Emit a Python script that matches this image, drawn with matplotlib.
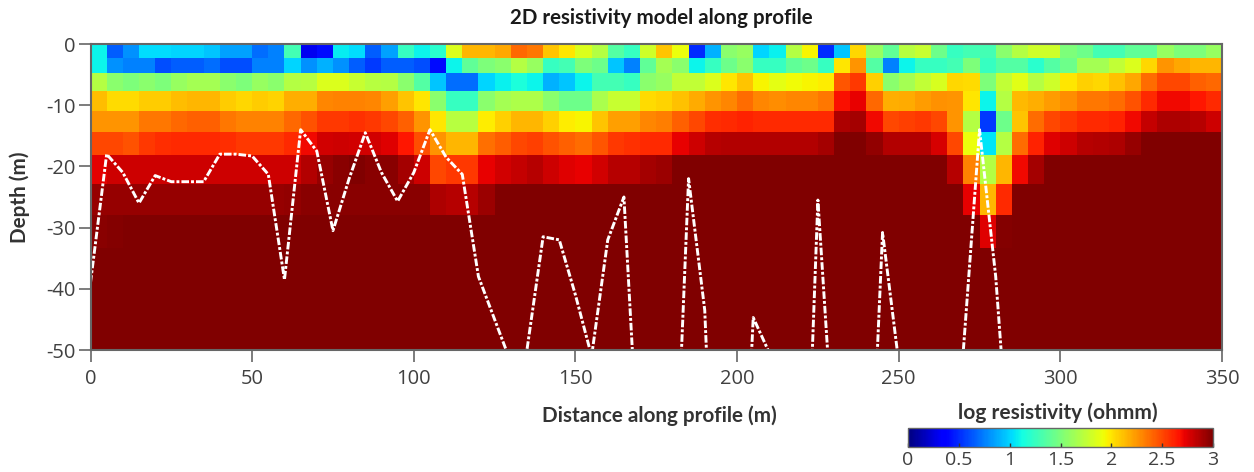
import numpy as np
import matplotlib
matplotlib.use("Agg")
import matplotlib.pyplot as plt

# Model grid
x_edges = np.arange(0, 355, 5)
depth_edges = [0, -2.3, -4.8, -7.6, -10.9, -14.3, -18.2, -22.8, -28, -33.4, -50]

row1 = [1.1, .65, .8, 1.03, 1.03, 1.0, 1.0, .95, .85, .85,
        .7, .75, 1.3, .3, .4, 1.07, 1.02, .65, .85, 1.25,
        1.1, 1.2, 1.85, 2.15, 2.15, 2.2, 2.4, 2.35, 2.1, 2.0,
        1.85, 1.7, 1.35, 1.25, 1.8, 2.1, 1.9, .5, .9, 1.55,
        1.6, 1.0, 1.08, 1.7, 1.95, .5, .95, 2.05, 1.6, 1.4,
        1.72, 1.78, 1.45, 1.25, 1.3, 1.3, 1.55, 1.7, 1.8, 1.8,
        1.5, 1.45, 1.3, 1.3, 1.4, 1.4, 1.6, 1.5, 1.5, 1.6]
row2 = [1.1, .8, .75, .75, .6, .65, .65, .7, .6, .6,
        .75, .75, 1.0, .8, .9, .8, .65, .55, .65, .65,
        .6, .4, 1.1, 1.4, 1.5, 1.55, 1.7, 1.6, 1.25, 1.3,
        1.5, 1.45, .95, .75, 1.4, 1.65, 1.55, 1.1, 1.25, 1.45,
        1.55, 1.25, 1.25, 1.4, 1.45, 1.25, 2.0, 2.25, 1.35, .75,
        1.1, 1.25, 1.25, 1.3, 1.5, 1.25, 1.35, 1.35, 1.2, 1.35,
        1.45, 1.65, 1.65, 1.75, 1.85, 2.05, 2.25, 2.2, 2.15, 2.15]
row3 = [1.7, 1.55, 1.5, 1.55, 1.5, 1.6, 1.65, 1.65, 1.55, 1.5,
        1.6, 1.55, 1.7, 1.72, 1.85, 1.85, 1.78, 1.72, 1.7, 1.55,
        1.35, .95, .7, .7, 1.0, 1.08, 1.15, 1.1, .9, .95,
        1.1, 1.3, 1.3, 1.25, 1.55, 1.6, 1.75, 1.75, 1.85, 2.0,
        2.1, 1.95, 1.88, 1.93, 1.95, 1.97, 2.45, 2.55, 2.07, 1.55,
        1.65, 1.75, 1.83, 2.05, 2.03, 1.5, 1.75, 1.87, 1.7, 1.8,
        2.0, 2.07, 2.05, 2.12, 2.2, 2.38, 2.5, 2.5, 2.42, 2.4]
row4 = [2.13, 2.03, 2.03, 2.08, 2.08, 2.13, 2.15, 2.15, 2.08, 2.05,
        2.08, 2.06, 2.17, 2.17, 2.3, 2.32, 2.32, 2.3, 2.22, 2.1,
        2.0, 1.55, 1.25, 1.25, 1.55, 1.65, 1.68, 1.68, 1.55, 1.45,
        1.45, 1.67, 1.78, 1.78, 2.03, 2.06, 2.12, 2.18, 2.25, 2.3,
        2.38, 2.3, 2.28, 2.3, 2.3, 2.35, 2.68, 2.72, 2.4, 2.17,
        2.18, 2.23, 2.27, 2.25, 2.0, 1.1, 1.7, 2.14, 2.17, 2.23,
        2.28, 2.35, 2.35, 2.38, 2.47, 2.6, 2.7, 2.7, 2.65, 2.6]
row5 = [2.25, 2.25, 2.25, 2.35, 2.35, 2.4, 2.42, 2.42, 2.35, 2.32,
        2.32, 2.32, 2.4, 2.47, 2.55, 2.55, 2.57, 2.55, 2.5, 2.42,
        2.25, 2.0, 1.72, 1.72, 1.97, 2.07, 2.15, 2.15, 2.07, 1.98,
        1.95, 2.1, 2.22, 2.22, 2.3, 2.33, 2.42, 2.5, 2.58, 2.6,
        2.62, 2.6, 2.6, 2.6, 2.6, 2.6, 2.88, 2.9, 2.7, 2.5,
        2.52, 2.55, 2.5, 2.25, 1.7, .55, 1.45, 2.1, 2.38, 2.5,
        2.55, 2.6, 2.6, 2.62, 2.7, 2.82, 2.88, 2.88, 2.85, 2.8]
row6 = [2.5, 2.5, 2.47, 2.55, 2.58, 2.6, 2.6, 2.6, 2.58, 2.55,
        2.55, 2.55, 2.6, 2.7, 2.78, 2.8, 2.78, 2.78, 2.75, 2.65,
        2.48, 2.25, 2.15, 2.15, 2.37, 2.43, 2.5, 2.52, 2.47, 2.42,
        2.38, 2.45, 2.55, 2.57, 2.6, 2.6, 2.72, 2.8, 2.85, 2.87,
        2.87, 2.87, 2.87, 2.87, 2.87, 2.9, 3.0, 3.0, 2.95, 2.87,
        2.87, 2.87, 2.77, 2.5, 1.9, 1.05, 1.7, 2.38, 2.62, 2.75,
        2.8, 2.85, 2.87, 2.88, 2.93, 3.0, 3.0, 3.0, 3.0, 3.0]
row7 = [2.74, 2.8, 2.8, 2.8, 2.8, 2.8, 2.8, 2.8, 2.8, 2.8,
        2.8, 2.8, 2.8, 2.87, 2.93, 2.97, 3.0, 2.97, 2.97, 2.9,
        2.8, 2.5, 2.55, 2.55, 2.72, 2.78, 2.82, 2.85, 2.8, 2.75,
        2.73, 2.78, 2.85, 2.85, 2.9, 2.92, 3.0, 3.0, 3.0, 3.0,
        3.0, 3.0, 3.0, 3.0, 3.0, 3.0, 3.0, 3.0, 3.0, 3.0,
        3.0, 3.0, 3.0, 2.85, 2.32, 1.7, 2.15, 2.7, 2.9, 3.0,
        3.0, 3.0, 3.0, 3.0, 3.0, 3.0, 3.0, 3.0, 3.0, 3.0]
row8 = [2.93, 2.93, 2.93, 2.93, 2.93, 2.93, 2.93, 2.93, 2.93, 2.93,
        2.93, 2.93, 2.95, 2.97, 2.97, 2.97, 2.97, 2.97, 2.97, 2.97,
        2.97, 2.88, 2.85, 2.85, 2.92, 3.0, 3.0, 3.0, 3.0, 3.0,
        3.0, 3.0, 3.0, 3.0, 3.0, 3.0, 3.0, 3.0, 3.0, 3.0,
        3.0, 3.0, 3.0, 3.0, 3.0, 3.0, 3.0, 3.0, 3.0, 3.0,
        3.0, 3.0, 3.0, 3.0, 2.72, 2.15, 2.6, 3.0, 3.0, 3.0,
        3.0, 3.0, 3.0, 3.0, 3.0, 3.0, 3.0, 3.0, 3.0, 3.0]
row9 = [2.97, 2.98, 3.0, 3.0, 3.0, 3.0, 3.0, 3.0, 3.0, 3.0,
        3.0, 3.0, 3.0, 3.0, 3.0, 3.0, 3.0, 3.0, 3.0, 3.0,
        3.0, 3.0, 3.0, 3.0, 3.0, 3.0, 3.0, 3.0, 3.0, 3.0,
        3.0, 3.0, 3.0, 3.0, 3.0, 3.0, 3.0, 3.0, 3.0, 3.0,
        3.0, 3.0, 3.0, 3.0, 3.0, 3.0, 3.0, 3.0, 3.0, 3.0,
        3.0, 3.0, 3.0, 3.0, 3.0, 2.75, 2.98, 3.0, 3.0, 3.0,
        3.0, 3.0, 3.0, 3.0, 3.0, 3.0, 3.0, 3.0, 3.0, 3.0]
row10 = [3.0] * 70

# Interface picked along the profile (goes off the plot below -50 m)
line_x = [0, 5, 10, 15, 20, 25, 30, 35, 40, 45, 50, 55, 60, 65, 70, 75, 80, 85,
          90, 95, 100, 105, 110, 115, 120, 125, 130, 135, 140, 145, 150, 155,
          160, 165, 170, 175, 180, 185, 190, 195, 200, 205, 210, 215, 220, 225,
          230, 235, 240, 245, 250, 255, 260, 265, 270, 275, 280, 285]
line_z = [-39, -18, -21, -26, -21.5, -22.5, -22.5, -22.5, -18, -18, -18.3, -21.3,
          -38.5, -14, -17.5, -30.5, -22, -14.5, -21, -25.7, -21, -14, -18.5, -21.3,
          -38, -45, -52, -50, -31.5, -32, -41, -51, -32, -25, -73, -80, -86, -22,
          -43.5, -107, -100, -44.7, -50.5, -90, -97, -25.5, -66.5, -80, -91, -30.8,
          -52, -65, -70, -70, -50, -14, -38, -74]

res = np.array([row1, row2, row3, row4, row5, row6, row7, row8, row9, row10])

W, H = 1254, 472
plt.rcParams['font.family'] = ['Open Sans', 'DejaVu Sans']
plt.rcParams['axes.unicode_minus'] = False
text_col = '#404040'
frame_col = '#666666'

fig = plt.figure(figsize=(W / 100, H / 100), dpi=100)
ax = fig.add_axes([90.5 / W, 1 - 350 / H, (1222 - 90.5) / W, (350 - 44) / H])

mesh = ax.pcolormesh(x_edges, depth_edges, res, cmap='jet', vmin=0, vmax=3,
                     shading='flat', linewidth=0, rasterized=True)
ax.plot(line_x, line_z, color='white', lw=2.1, ls=(0, (2.6, 0.7, 1.0, 0.7)))

ax.set_xlim(0, 350)
ax.set_ylim(-50, 0)
ax.set_xticks(np.arange(0, 351, 50))
ax.set_yticks(np.arange(-50, 1, 10))
ax.tick_params(direction='out', length=8.5, width=1.2, color=frame_col,
               labelsize=14.5, labelcolor=text_col)
ax.tick_params(axis='x', pad=5)
ax.tick_params(axis='y', pad=2)
for s in ax.spines.values():
    s.set_color(frame_col)
    s.set_linewidth(1.5)

fig.text(661 / W, 1 - 18 / H, '2D resistivity model along profile', family='Lato',
         fontweight='bold', fontsize=14.8, color='#1a1a1a', ha='center', va='center')
fig.text(659.5 / W, 1 - 416 / H, 'Distance along profile (m)', family='Lato',
         fontweight='bold', fontsize=14.9, color='#333333', ha='center', va='center')
fig.text(20 / W, 1 - 197.5 / H, 'Depth (m)', family='Lato', fontweight='bold',
         fontsize=14.9, color='#333333', ha='center', va='center', rotation=90)
fig.text(1057.5 / W, 1 - 413 / H, 'log resistivity (ohmm)', family='Lato',
         fontweight='bold', fontsize=15, color='#333333', ha='center', va='center')

cax = fig.add_axes([908 / W, 1 - 447 / H, (1213 - 908) / W, 19 / H])
cb = fig.colorbar(mesh, cax=cax, orientation='horizontal')
cb.set_ticks([0, 0.5, 1, 1.5, 2, 2.5, 3])
cb.set_ticklabels(['0', '0.5', '1', '1.5', '2', '2.5', '3'])
cax.tick_params(direction='in', length=3, width=1, color='#333333',
                labelsize=14, labelcolor=text_col, pad=3)
cb.outline.set_edgecolor(frame_col)
cb.outline.set_linewidth(1)

fig.savefig('out.png', dpi=100)
